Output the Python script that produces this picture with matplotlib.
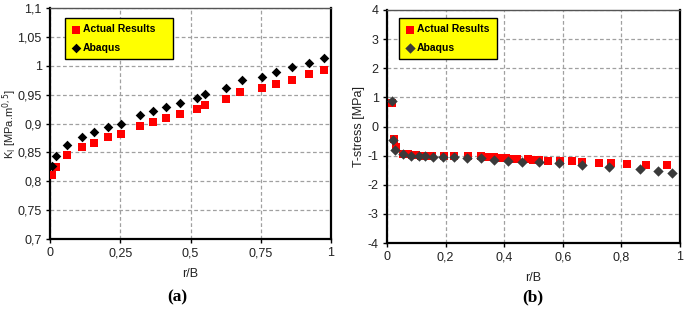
import matplotlib
matplotlib.use("Agg")
import matplotlib.pyplot as plt
from matplotlib.ticker import FuncFormatter

# ---- data: panel (a) K_I ----
ka_x_actual = [0.008, 0.020, 0.059, 0.114, 0.158, 0.207, 0.253, 0.321, 0.368, 0.414,
               0.463, 0.522, 0.553, 0.626, 0.676, 0.756, 0.805, 0.861, 0.920, 0.974]
ka_y_actual = [0.810, 0.825, 0.846, 0.860, 0.867, 0.876, 0.882, 0.895, 0.902, 0.910,
               0.917, 0.925, 0.932, 0.942, 0.955, 0.961, 0.969, 0.976, 0.985, 0.992]
ka_x_abaqus = [0.006, 0.020, 0.059, 0.114, 0.158, 0.207, 0.253, 0.321, 0.368, 0.414,
               0.463, 0.522, 0.553, 0.626, 0.684, 0.756, 0.805, 0.861, 0.920, 0.974]
ka_y_abaqus = [0.827, 0.843, 0.862, 0.877, 0.885, 0.894, 0.900, 0.914, 0.921, 0.929,
               0.936, 0.945, 0.951, 0.962, 0.975, 0.981, 0.990, 0.997, 1.005, 1.013]

# ---- data: panel (b) T-stress ----
t_x_actual = [0.018, 0.024, 0.030, 0.055, 0.070, 0.085, 0.100, 0.115, 0.130, 0.155,
              0.195, 0.230, 0.275, 0.320, 0.345, 0.365, 0.385, 0.405, 0.425, 0.445,
              0.480, 0.500, 0.520, 0.550, 0.590, 0.632, 0.667, 0.724, 0.765, 0.820,
              0.884, 0.955]
t_y_actual = [0.82, -0.42, -0.70, -0.93, -0.96, -0.98, -0.99, -1.00, -1.01, -1.02,
              -1.00, -1.02, -1.01, -1.00, -1.05, -1.06, -1.08, -1.09, -1.10, -1.12,
              -1.13, -1.14, -1.14, -1.17, -1.17, -1.20, -1.23, -1.25, -1.25, -1.28,
              -1.31, -1.33]
t_x_abaqus = [0.018, 0.022, 0.028, 0.056, 0.082, 0.108, 0.131, 0.156, 0.192, 0.229,
              0.273, 0.322, 0.366, 0.413, 0.461, 0.520, 0.587, 0.667, 0.759, 0.862,
              0.924, 0.974]
t_y_abaqus = [0.87, -0.47, -0.80, -0.94, -1.02, -1.02, -1.02, -1.05, -1.05, -1.06,
              -1.08, -1.09, -1.16, -1.20, -1.22, -1.22, -1.24, -1.33, -1.39, -1.45,
              -1.52, -1.60]

a_xticks = [0, 0.25, 0.5, 0.75, 1]
a_yticks = [0.7, 0.75, 0.8, 0.85, 0.9, 0.95, 1.0, 1.05, 1.1]
b_xticks = [0, 0.2, 0.4, 0.6, 0.8, 1]
b_yticks = [-4, -3, -2, -1, 0, 1, 2, 3, 4]

plt.rcParams['font.family'] = ['Liberation Sans', 'DejaVu Sans']

fig = plt.figure(figsize=(6.85, 3.13), dpi=100)
axa = fig.add_axes([50/685, 1-239/313, 281/685, 231/313])
axb = fig.add_axes([387/685, 1-243/313, 293/685, 233/313])


def comma(v, pos):
    s = ('%g' % v)
    return s.replace('.', ',')


def style(ax, xt, yt):
    ax.set_xticks(xt)
    ax.set_yticks(yt)
    ax.xaxis.set_major_formatter(FuncFormatter(comma))
    ax.yaxis.set_major_formatter(FuncFormatter(comma))
    ax.grid(True, color='#a0a0a0', linestyle=(0, (3, 2)), linewidth=0.9)
    ax.set_axisbelow(True)
    ax.tick_params(axis='both', labelsize=9, length=3, width=1, color='black',
                   labelcolor='#222222', pad=3)
    for side in ['left', 'bottom']:
        ax.spines[side].set_linewidth(1.6)
        ax.spines[side].set_color('black')
    ax.spines['right'].set_linewidth(1.6)
    ax.spines['right'].set_color('black')
    ax.spines['top'].set_linewidth(1.0)
    ax.spines['top'].set_color('#555555')


# panel (a)
axa.scatter(ka_x_actual, ka_y_actual, marker='s', s=30, color='#ff0000',
            label='Actual Results', zorder=3, linewidths=0)
axa.scatter(ka_x_abaqus, ka_y_abaqus, marker='D', s=24, color='black',
            label='Abaqus', zorder=4, linewidths=0)
axa.set_xlim(0, 1)
axa.set_ylim(0.7, 1.1)
style(axa, a_xticks, a_yticks)
axa.set_xlabel('r/B', fontsize=9, color='#222222', labelpad=6)
axa.set_ylabel(r'K$_{\mathrm{I}}$ [MPa.m$^{0,5}$]', fontsize=8, color='#222222')
axa.yaxis.set_label_coords((19 - 50) / 281, 0.5)

# panel (b)
axb.scatter(t_x_actual, t_y_actual, marker='s', s=30, color='#ff0000',
            label='Actual Results', zorder=3, linewidths=0)
axb.scatter(t_x_abaqus, t_y_abaqus, marker='D', s=28, color='#3a3a3a',
            label='Abaqus', zorder=4, linewidths=0)
axb.set_xlim(0, 1)
axb.set_ylim(-4, 4)
style(axb, b_xticks, b_yticks)
axb.set_xlabel('r/B', fontsize=9, color='#222222', labelpad=6)
axb.set_ylabel('T-stress [MPa]', fontsize=9, color='#222222')
axb.yaxis.set_label_coords((365 - 387) / 293, 0.5)

for ax, bb in [(axa, (65, 18, 108, 40)), (axb, (399, 18, 98, 42))]:
    pos = ax.get_position()
    x0 = (bb[0]/685 - pos.x0) / pos.width
    y1 = ((1 - bb[1]/313) - pos.y0) / pos.height
    w = (bb[2]/685) / pos.width
    h = (bb[3]/313) / pos.height
    leg = ax.legend(loc='upper left', bbox_to_anchor=(x0, y1 - h, w, h), mode='expand',
                    frameon=True, fancybox=False, facecolor='#ffff00', edgecolor='black',
                    framealpha=1, borderpad=0.6, handletextpad=0.1, handlelength=1.0,
                    labelspacing=0.8, borderaxespad=0,
                    prop={'weight': 'bold', 'size': 7.5})
    leg.get_frame().set_linewidth(1.0)

fig.text(177/685, 1-297/313, '(a)', fontsize=12.5, fontweight='bold',
         family=['Liberation Serif', 'DejaVu Serif'], ha='center', va='center')
fig.text(533/685, 1-297/313, '(b)', fontsize=12.5, fontweight='bold',
         family=['Liberation Serif', 'DejaVu Serif'], ha='center', va='center')

fig.savefig('out.png', dpi=100)
